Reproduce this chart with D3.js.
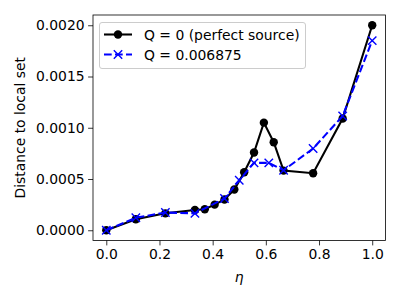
<!DOCTYPE html>
<html>
<head>
<meta charset="utf-8">
<script src="https://cdn.jsdelivr.net/npm/d3@7"></script>
<style>
  body { margin: 0; background: #fff; }
  text { font-family: "DejaVu Sans", sans-serif; }
</style>
</head>
<body>
<script>
var w = 400;
var h = 300;

// eta values and distances for the two series
var etaPerfect = [0, 1/9, 2/9, 1/3, 10/27, 11/27, 12/27, 13/27, 14/27, 15/27, 16/27, 17/27, 2/3, 7/9, 8/9, 1];
var distPerfect = [0, 0.000107, 0.000165, 0.000197, 0.000205, 0.00025, 0.0003, 0.000397, 0.000566, 0.000758, 0.00105, 0.000859, 0.000582, 0.000556, 0.00109, 0.0020];

var etaNoisy = [0, 1/9, 2/9, 1/3, 4/9, 1/2, 5/9, 11/18, 2/3, 7/9, 8/9, 1];
var distNoisy = [0, 0.000122, 0.000173, 0.000165, 0.00031, 0.000488, 0.000657, 0.000657, 0.000585, 0.000797, 0.001115, 0.00185];

var xTicks = [0, 0.2, 0.4, 0.6, 0.8, 1.0];
var yTicks = [0, 0.0005, 0.0010, 0.0015, 0.0020];
var labels = ["Q = 0 (perfect source)", "Q = 0.006875"];

var padL = 93, padR = 385.5, padT = 15, padB = 240.5;

var x = d3.scaleLinear().domain([-0.05, 1.05]).range([padL, padR]);
var y = d3.scaleLinear().domain([-0.0001, 0.0021]).range([padB, padT]);

var svg = d3.select("body")
    .append("svg")
    .attr("width", w)
    .attr("height", h);

svg.append("rect")
    .attr("width", w)
    .attr("height", h)
    .attr("fill", "white");

// axes
var xAxis = svg.append("g")
    .attr("transform", "translate(0," + padB + ")")
    .call(d3.axisBottom(x).tickValues(xTicks).tickFormat(d3.format(".1f")).tickSizeOuter(0).tickSize(4.9).tickPadding(3.5));
var yAxis = svg.append("g")
    .attr("transform", "translate(" + padL + ",0)")
    .call(d3.axisLeft(y).tickValues(yTicks).tickFormat(d3.format(".4f")).tickSizeOuter(0).tickSize(4.9).tickPadding(3.5));

[xAxis, yAxis].forEach(function (g) {
    g.select(".domain").remove();
    g.selectAll("line").attr("stroke", "black").attr("stroke-width", 0.8);
    g.selectAll("text")
        .attr("fill", "black")
        .style("font-size", "13.9px")
        .style("font-family", "DejaVu Sans");
});

var line = d3.line()
    .x(function (d) { return x(d[0]); })
    .y(function (d) { return y(d[1]); });

var perfect = d3.zip(etaPerfect, distPerfect);
var noisy = d3.zip(etaNoisy, distNoisy);

svg.append("path")
    .datum(perfect)
    .attr("d", line)
    .attr("fill", "none")
    .attr("stroke", "black")
    .attr("stroke-width", 2.08);

svg.selectAll("circle.perfect")
    .data(perfect)
    .enter()
    .append("circle")
    .attr("class", "perfect")
    .attr("cx", function (d) { return x(d[0]); })
    .attr("cy", function (d) { return y(d[1]); })
    .attr("r", 4.2)
    .attr("fill", "black");

svg.append("path")
    .datum(noisy)
    .attr("d", line)
    .attr("fill", "none")
    .attr("stroke", "blue")
    .attr("stroke-width", 2.08)
    .attr("stroke-dasharray", "7.7,3.3");

function cross(g, cx, cy) {
    var s = 4.2;
    g.append("path")
        .attr("d", "M" + (cx - s) + "," + (cy - s) + "L" + (cx + s) + "," + (cy + s) +
                   "M" + (cx - s) + "," + (cy + s) + "L" + (cx + s) + "," + (cy - s))
        .attr("stroke", "blue")
        .attr("stroke-width", 1.4)
        .attr("fill", "none");
}

var crosses = svg.append("g");
noisy.forEach(function (d) { cross(crosses, x(d[0]), y(d[1])); });

// frame
svg.append("rect")
    .attr("x", padL)
    .attr("y", padT)
    .attr("width", padR - padL)
    .attr("height", padB - padT)
    .attr("fill", "none")
    .attr("stroke", "black")
    .attr("stroke-width", 0.8);

// axis labels
svg.append("text")
    .attr("x", (padL + padR) / 2)
    .attr("y", 282)
    .attr("text-anchor", "middle")
    .style("font-size", "13.9px")
    .style("font-style", "italic")
    .text("η");

svg.append("text")
    .attr("transform", "translate(25," + ((padT + padB) / 2) + ") rotate(-90)")
    .attr("text-anchor", "middle")
    .style("font-size", "13.9px")
    .text("Distance to local set");

// legend
var legend = svg.append("g");
legend.append("rect")
    .attr("x", 99.5)
    .attr("y", 22.5)
    .attr("width", 206)
    .attr("height", 46)
    .attr("rx", 2.5)
    .attr("fill", "white")
    .attr("fill-opacity", 0.8)
    .attr("stroke", "#cccccc")
    .attr("stroke-width", 1);

var rowY = [34.5, 54.5];
legend.append("line")
    .attr("x1", 104).attr("x2", 132)
    .attr("y1", rowY[0]).attr("y2", rowY[0])
    .attr("stroke", "black").attr("stroke-width", 2.08);
legend.append("circle")
    .attr("cx", 118).attr("cy", rowY[0]).attr("r", 4.2).attr("fill", "black");
legend.append("line")
    .attr("x1", 104).attr("x2", 132)
    .attr("y1", rowY[1]).attr("y2", rowY[1])
    .attr("stroke", "blue").attr("stroke-width", 2.08)
    .attr("stroke-dasharray", "7.7,3.3");
cross(legend, 118, rowY[1]);

legend.selectAll("text.lab")
    .data(labels)
    .enter()
    .append("text")
    .attr("class", "lab")
    .attr("x", 144)
    .attr("y", function (d, i) { return rowY[i] + 5; })
    .style("font-size", "13.9px")
    .text(function (d) { return d; });
</script>
</body>
</html>
